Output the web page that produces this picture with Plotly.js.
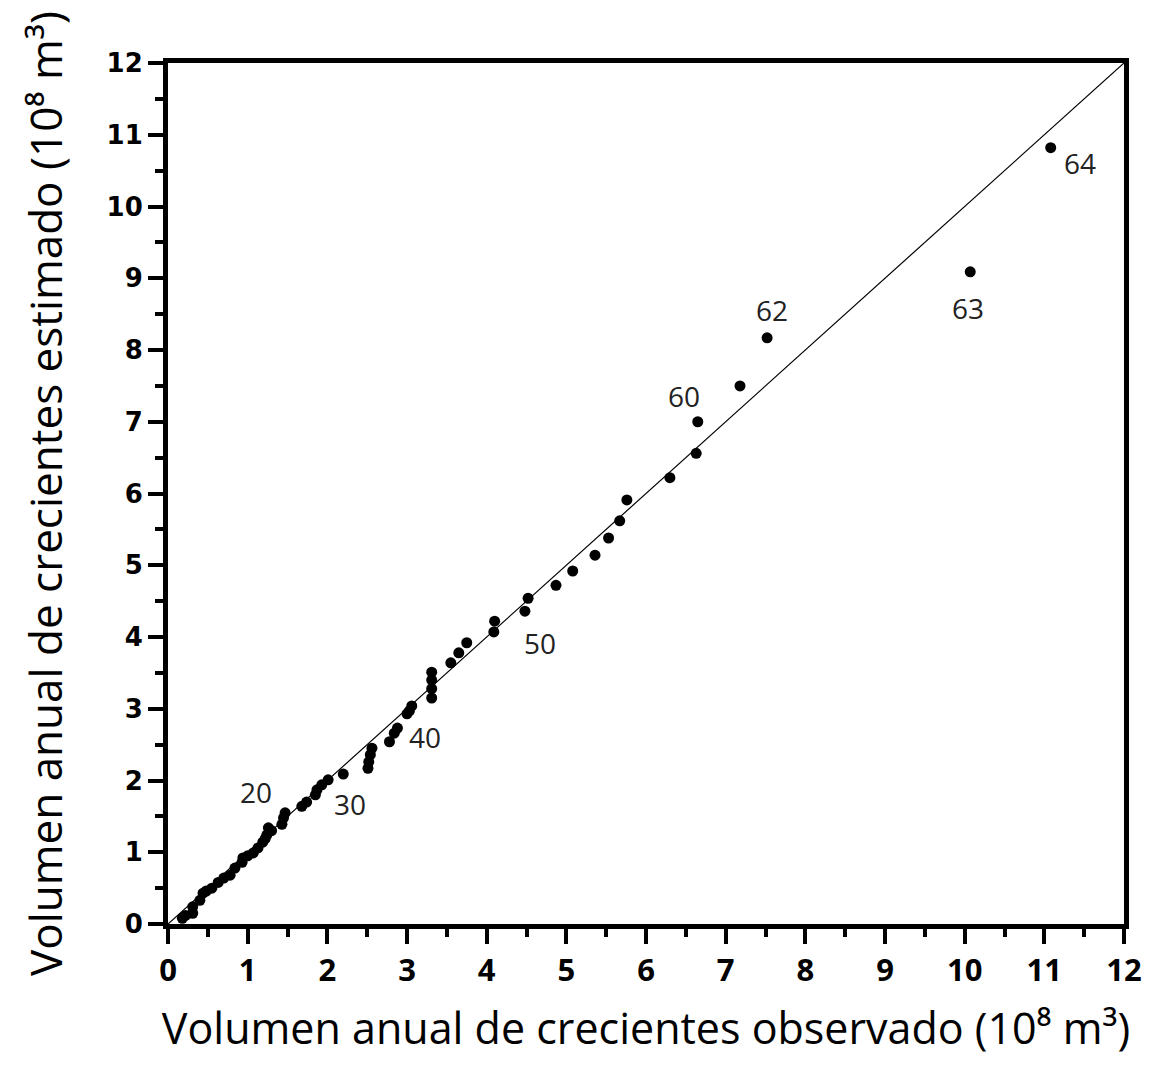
<!DOCTYPE html>
<html>
<head>
<meta charset="utf-8">
<script src="https://cdn.plot.ly/plotly-3.0.1.min.js"></script>
<style>html,body{margin:0;padding:0;background:#fff;}#chart{width:1151px;height:1065px;}</style>
</head>
<body>
<div id="chart"></div>
<script>
// Observed vs estimated annual flood volume (10^8 m^3)
const observed = [0.18,0.22,0.31,0.31,0.40,0.44,0.48,0.55,0.63,0.70,0.78,0.84,0.93,0.94,1.00,1.07,1.13,1.19,1.22,1.24,1.26,1.30,1.43,1.45,1.47,1.68,1.74,1.85,1.87,1.93,2.01,2.20,2.51,2.52,2.54,2.56,2.78,2.84,2.88,3.00,3.03,3.06,3.31,3.31,3.31,3.31,3.55,3.65,3.75,4.09,4.10,4.48,4.52,4.87,5.08,5.36,5.53,5.67,5.76,6.30,6.63,6.65,7.18,7.52,10.07,11.08];
const estimated = [0.08,0.12,0.15,0.24,0.33,0.43,0.46,0.50,0.58,0.64,0.68,0.78,0.86,0.92,0.95,0.99,1.06,1.14,1.19,1.24,1.34,1.30,1.39,1.48,1.55,1.64,1.70,1.80,1.87,1.94,2.01,2.09,2.17,2.26,2.36,2.45,2.54,2.66,2.73,2.93,2.97,3.04,3.15,3.28,3.40,3.51,3.64,3.78,3.92,4.07,4.22,4.36,4.54,4.72,4.92,5.14,5.38,5.62,5.91,6.22,6.56,7.00,7.50,8.17,9.09,10.82];
const lineX = [0, 12];
const lineY = [0, 12];
const labelText = ['20','30','40','50','60','62','63','64'];
const labelX = [1.10, 2.28, 3.23, 4.67, 6.48, 7.58, 10.04, 11.45];
const labelY = [1.84, 1.67, 2.61, 3.92, 7.36, 8.56, 8.59, 10.61];
const tickVals = [0,1,2,3,4,5,6,7,8,9,10,11,12];
const tickText = ['0','1','2','3','4','5','6','7','8','9','10','11','12'];
const xTitle = 'Volumen anual de crecientes observado (10\u2078 m\u00B3)';
const yTitle = 'Volumen anual de crecientes estimado (10\u2078 m\u00B3)';

const traces = [
  {x: lineX, y: lineY, mode: 'lines', line: {color: '#000', width: 1.2}, hoverinfo: 'skip', showlegend: false, cliponaxis: false},
  {x: observed, y: estimated, mode: 'markers', marker: {color: '#000', size: 11}, showlegend: false, cliponaxis: false}
];

const annotations = labelText.map((t, i) => ({
  x: labelX[i], y: labelY[i], xref: 'x', yref: 'y', text: t, showarrow: false,
  font: {family: 'Open Sans, sans-serif', size: 28, color: '#222'}
}));

const axisCommon = {
  range: [0, 12], autorange: false, fixedrange: true,
  showgrid: false, zeroline: false,
  showline: true, linecolor: '#000', linewidth: 5, mirror: true,
  ticks: 'outside', ticklen: 15, tickwidth: 4, tickcolor: '#000',
  tickvals: tickVals, ticktext: tickText,
  minor: {dtick: 0.5, tick0: 0, ticks: 'outside', ticklen: 8, tickwidth: 4, tickcolor: '#000', showgrid: false}
};

const layout = {
  width: 1151, height: 1065,
  margin: {l: 168, r: 27, t: 63, b: 141},
  paper_bgcolor: '#fff', plot_bgcolor: '#fff',
  showlegend: false,
  annotations: annotations,
  xaxis: Object.assign({}, axisCommon, {
    tickfont: {family: 'Open Sans, sans-serif', size: 31, color: '#000', weight: 'bold'},
    title: {text: xTitle, font: {family: 'Open Sans, DejaVu Sans, sans-serif', size: 43, color: '#000'}, standoff: 26}
  }),
  yaxis: Object.assign({}, axisCommon, {
    tickfont: {family: 'DejaVu Sans, sans-serif', size: 26, color: '#000', weight: 'bold'},
    title: {text: yTitle, font: {family: 'Open Sans, DejaVu Sans, sans-serif', size: 44, color: '#000'}, standoff: 32}
  })
};

Plotly.newPlot('chart', traces, layout, {staticPlot: true, displayModeBar: false});
</script>
</body>
</html>
